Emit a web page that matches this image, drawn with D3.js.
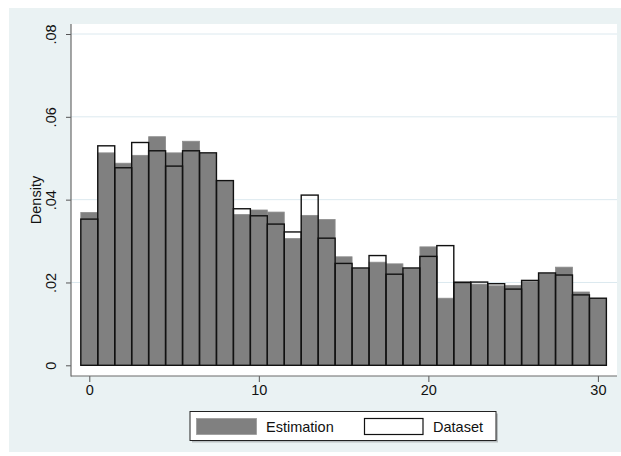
<!DOCTYPE html>
<html>
<head>
<meta charset="utf-8">
<script src="https://cdn.jsdelivr.net/npm/d3@7"></script>
<style>
  html, body { margin: 0; padding: 0; background: #ffffff; }
  svg { display: block; font-family: "Liberation Sans", Arial, Helvetica, sans-serif; }
</style>
</head>
<body>
<svg id="chart" width="621" height="456"></svg>
<script>
// Bin centres (width 1) and densities for the two overlaid histograms
const bins = d3.range(0, 31);
const estimation = [0.0369, 0.0513, 0.0488, 0.0507, 0.0552, 0.0513, 0.0541, 0.0512, 0.0445, 0.0364,
                    0.0375, 0.0370, 0.0306, 0.0362, 0.0352, 0.0262, 0.0234, 0.0249, 0.0245, 0.0234,
                    0.0286, 0.0162, 0.0202, 0.0196, 0.0192, 0.0193, 0.0202, 0.0222, 0.0237, 0.0177, 0.0161];
const dataset    = [0.0353, 0.0530, 0.0477, 0.0538, 0.0518, 0.0481, 0.0518, 0.0513, 0.0446, 0.0378,
                    0.0361, 0.0341, 0.0322, 0.0411, 0.0307, 0.0246, 0.0235, 0.0265, 0.0220, 0.0235,
                    0.0263, 0.0289, 0.0200, 0.0201, 0.0197, 0.0184, 0.0205, 0.0223, 0.0218, 0.0170, 0.0162];
const xTicks = [0, 10, 20, 30];
const yTicks = [0, 0.02, 0.04, 0.06, 0.08];
const yTitle = "Density";
const seriesNames = ["Estimation", "Dataset"];

const svg = d3.select("#chart");

// outer graph region
svg.append("rect").attr("x", 9).attr("y", 8).attr("width", 612).attr("height", 444)
  .attr("fill", "#eaf2f3");

// plot region
const plot = { left: 71, top: 24, right: 617, bottom: 376 };
svg.append("rect")
  .attr("x", plot.left).attr("y", plot.top)
  .attr("width", plot.right - plot.left).attr("height", plot.bottom - plot.top)
  .attr("fill", "#ffffff");

const x = d3.scaleLinear().domain([0, 30]).range([89.3, 597.9]);
const y = d3.scaleLinear().domain([0, 0.08]).range([365.3, 34]);

// horizontal grid lines
svg.append("g").selectAll("line")
  .data(yTicks.filter(v => v > 0))
  .join("line")
  .attr("x1", plot.left).attr("x2", plot.right)
  .attr("y1", d => y(d)).attr("y2", d => y(d))
  .attr("stroke", "#dce9ef").attr("stroke-width", 1);

// estimation bars (filled)
svg.append("g").selectAll("rect")
  .data(bins)
  .join("rect")
  .attr("x", d => x(d - 0.5))
  .attr("width", d => x(d + 0.5) - x(d - 0.5))
  .attr("y", (d, i) => y(estimation[i]))
  .attr("height", (d, i) => y(0) - y(estimation[i]))
  .attr("fill", "#808080")
  .attr("stroke", "#8c8c8c")
  .attr("stroke-width", 0.8);

// dataset bars (outline only)
svg.append("g").selectAll("rect")
  .data(bins)
  .join("rect")
  .attr("x", d => x(d - 0.5))
  .attr("width", d => x(d + 0.5) - x(d - 0.5))
  .attr("y", (d, i) => y(dataset[i]))
  .attr("height", (d, i) => y(0) - y(dataset[i]))
  .attr("fill", "none")
  .attr("stroke", "#111111")
  .attr("stroke-width", 1.4);

// y axis
const yAxis = svg.append("g")
  .attr("transform", `translate(${plot.left},0)`)
  .call(d3.axisLeft(y).tickValues(yTicks).tickSize(5).tickSizeOuter(0)
    .tickFormat(v => v === 0 ? "0" : d3.format(".2f")(v).replace(/^0/, "")));
yAxis.select(".domain").remove();
yAxis.selectAll(".tick line").attr("stroke", "#555");
yAxis.selectAll(".tick text")
  .attr("x", 0).attr("dy", 0)
  .attr("transform", "translate(-15,0) rotate(-90)")
  .attr("text-anchor", "middle")
  .attr("font-size", 14.5)
  .attr("fill", "#111")
  .attr("font-family", "Liberation Sans, Arial, sans-serif");

// x axis
const xAxis = svg.append("g")
  .attr("transform", `translate(0,${plot.bottom})`)
  .call(d3.axisBottom(x).tickValues(xTicks).tickSize(6).tickSizeOuter(0).tickFormat(d3.format("d")));
xAxis.select(".domain").remove();
xAxis.selectAll(".tick line").attr("stroke", "#555");
xAxis.selectAll(".tick text")
  .attr("y", 9).attr("dy", "0.71em")
  .attr("font-size", 14.5)
  .attr("fill", "#111")
  .attr("font-family", "Liberation Sans, Arial, sans-serif");

// axis lines along the plot region edges
svg.append("line").attr("x1", plot.left).attr("x2", plot.left)
  .attr("y1", plot.top).attr("y2", plot.bottom + 0.5)
  .attr("stroke", "#6a6a6a").attr("stroke-width", 1.2);
svg.append("line").attr("x1", plot.left).attr("x2", plot.right)
  .attr("y1", plot.bottom).attr("y2", plot.bottom)
  .attr("stroke", "#6a6a6a").attr("stroke-width", 1.2);

// y title
svg.append("text")
  .attr("transform", `translate(41,${(plot.top + plot.bottom) / 2}) rotate(-90)`)
  .attr("text-anchor", "middle")
  .attr("font-size", 14.5)
  .attr("fill", "#111")
  .text(yTitle);

// legend
const leg = svg.append("g");
leg.append("rect").attr("x", 192).attr("y", 413.5).attr("width", 306).attr("height", 29)
  .attr("fill", "#b9bfc1");
leg.append("rect").attr("x", 190).attr("y", 411.5).attr("width", 306).attr("height", 29)
  .attr("fill", "#ffffff").attr("stroke", "#222").attr("stroke-width", 1);
leg.append("rect").attr("x", 196.5).attr("y", 418.5).attr("width", 60).attr("height", 16)
  .attr("fill", "#808080").attr("stroke", "#9a9a9a").attr("stroke-width", 0.8);
leg.append("text").attr("x", 266).attr("y", 432).attr("font-size", 14.5).attr("fill", "#111")
  .text(seriesNames[0]);
leg.append("rect").attr("x", 364.5).attr("y", 418.5).attr("width", 58.5).attr("height", 16)
  .attr("fill", "#ffffff").attr("stroke", "#111").attr("stroke-width", 1.2);
leg.append("text").attr("x", 433).attr("y", 432).attr("font-size", 14.5).attr("fill", "#111")
  .text(seriesNames[1]);
</script>
</body>
</html>
